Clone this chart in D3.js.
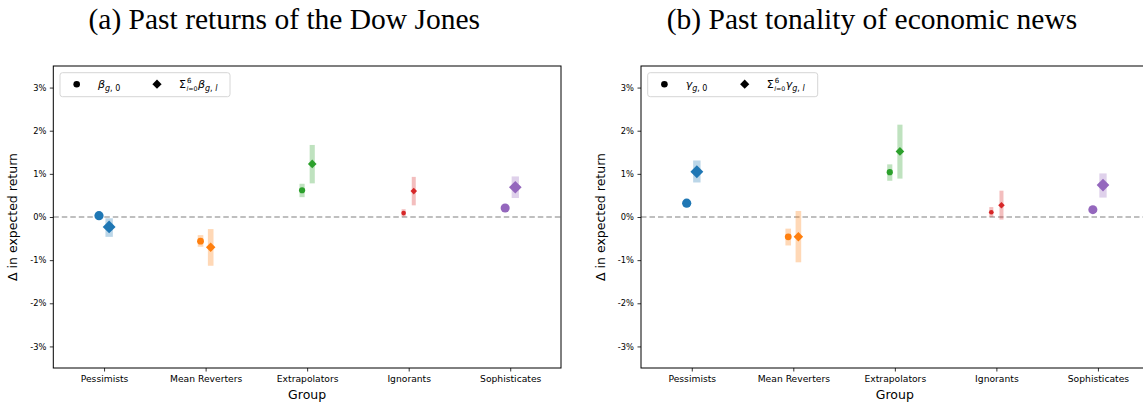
<!DOCTYPE html>
<html>
<head>
<meta charset="utf-8">
<script src="https://cdn.jsdelivr.net/npm/d3@7"></script>
<style>
  html, body { margin: 0; padding: 0; background: #fff; }
  svg { display: block; }
</style>
</head>
<body>
<svg id="chart" width="1143" height="403"></svg>
<script>
// ---------- data ----------
const groups = ["Pessimists", "Mean Reverters", "Extrapolators", "Ignorants", "Sophisticates"];
const groupColors = ["#1f77b4", "#ff7f0e", "#2ca02c", "#d62728", "#9467bd"];
const groupShare = [0.31, 0.17, 0.14, 0.08, 0.30];   // drives marker size
const yTicks = [-3, -2, -1, 0, 1, 2, 3];
const panelTitles = ["(a) Past returns of the Dow Jones", "(b) Past tonality of economic news"];
const panelSymbols = ["β", "γ"];

// panel (a): contemporaneous effect (circle) and cumulative effect (diamond), in %
const aCoef0   = [0.03, -0.56, 0.62, 0.09, 0.21];
const aCoef0Lo = [-0.02, -0.69, 0.46, 0.01, 0.16];
const aCoef0Hi = [0.08, -0.42, 0.77, 0.18, 0.26];
const aCum     = [-0.23, -0.70, 1.23, 0.60, 0.69];
const aCumLo   = [-0.46, -1.13, 0.78, 0.27, 0.44];
const aCumHi   = [-0.03, -0.28, 1.67, 0.93, 0.94];

// panel (b)
const bCoef0   = [0.32, -0.46, 1.04, 0.11, 0.17];
const bCoef0Lo = [0.27, -0.66, 0.84, 0.00, 0.12];
const bCoef0Hi = [0.37, -0.27, 1.22, 0.23, 0.22];
const bCum     = [1.05, -0.46, 1.52, 0.27, 0.74];
const bCumLo   = [0.80, -1.05, 0.89, -0.06, 0.45];
const bCumHi   = [1.31, 0.14, 2.14, 0.61, 1.01];

const panelsData = [
  { c0: aCoef0, c0lo: aCoef0Lo, c0hi: aCoef0Hi, cs: aCum, cslo: aCumLo, cshi: aCumHi },
  { c0: bCoef0, c0lo: bCoef0Lo, c0hi: bCoef0Hi, cs: bCum, cslo: bCumLo, cshi: bCumHi }
];

// ---------- layout ----------
const svg = d3.select("#chart");
const panelX = [[53.3, 561], [641, 1148.7]];
const yTop = 66, yBot = 368;
const sans = "'DejaVu Sans', sans-serif";

const rScale = d3.scaleSqrt().domain([0, d3.max(groupShare)]).range([0, 4.6]);
const yScale = d3.scaleLinear().domain([-3.5, 3.5]).range([yBot, yTop]);

panelsData.forEach((pd, p) => {
  const [x0, x1] = panelX[p];
  const g = svg.append("g");
  const x = d3.scaleLinear().domain([-0.5, 4.5]).range([x0, x1]);
  const off = 0.05;

  // title
  g.append("text")
    .attr("x", x0 + 231).attr("y", 29)
    .attr("text-anchor", "middle")
    .attr("font-family", "'Liberation Serif', 'DejaVu Serif', serif")
    .attr("font-size", 29.5)
    .text(panelTitles[p]);

  // zero line
  g.append("line")
    .attr("x1", x0).attr("x2", x1)
    .attr("y1", yScale(0)).attr("y2", yScale(0))
    .attr("stroke", "#aaaaaa").attr("stroke-width", 1.4)
    .attr("stroke-dasharray", "5.5,3");

  // axes
  const yAxis = d3.axisLeft(yScale).tickValues(yTicks)
    .tickFormat(d => d + "%").tickSize(3.5).tickPadding(3.5);
  const ya = g.append("g").attr("transform", `translate(${x0},0)`).call(yAxis);
  const xAxis = d3.axisBottom(x).tickValues(d3.range(groups.length))
    .tickFormat(i => groups[i]).tickSize(3.5).tickPadding(3.5);
  const xa = g.append("g").attr("transform", `translate(0,${yBot})`).call(xAxis);
  [ya, xa].forEach(a => {
    a.select(".domain").remove();
    a.selectAll("line").attr("stroke", "#000").attr("stroke-width", 0.8);
    a.selectAll("text").attr("font-family", sans).attr("fill", "#000");
  });
  ya.selectAll("text").attr("font-size", 8.3);
  xa.selectAll("text").attr("font-size", 9.2);

  // frame
  g.append("rect")
    .attr("x", x0).attr("y", yTop)
    .attr("width", x1 - x0).attr("height", yBot - yTop)
    .attr("fill", "none").attr("stroke", "#000").attr("stroke-width", 1);

  // axis labels
  g.append("text")
    .attr("x", (x0 + x1) / 2).attr("y", 399)
    .attr("text-anchor", "middle")
    .attr("font-family", sans).attr("font-size", 12.5)
    .text("Group");
  g.append("text")
    .attr("transform", `translate(${x0 - 36},${(yTop + yBot) / 2}) rotate(-90)`)
    .attr("text-anchor", "middle")
    .attr("font-family", sans).attr("font-size", 12.5)
    .text("Δ in expected return");

  // CI bars + markers
  const marks = g.append("g");
  groups.forEach((grp, i) => {
    const r = rScale(groupShare[i]);
    const col = groupColors[i];
    const w = r * 1.5 + 0.5;
    const cx = x(i - off), dx = x(i + off);
    marks.append("rect")
      .attr("x", cx - w / 2).attr("width", w)
      .attr("y", yScale(pd.c0hi[i])).attr("height", yScale(pd.c0lo[i]) - yScale(pd.c0hi[i]))
      .attr("fill", col).attr("opacity", 0.3);
    marks.append("rect")
      .attr("x", dx - w / 2).attr("width", w)
      .attr("y", yScale(pd.cshi[i])).attr("height", yScale(pd.cslo[i]) - yScale(pd.cshi[i]))
      .attr("fill", col).attr("opacity", 0.3);
    marks.append("circle")
      .attr("cx", cx).attr("cy", yScale(pd.c0[i])).attr("r", r)
      .attr("fill", col);
    const h = r * 1.4;
    const cy = yScale(pd.cs[i]);
    marks.append("path")
      .attr("d", `M${dx},${cy - h}L${dx + h},${cy}L${dx},${cy + h}L${dx - h},${cy}Z`)
      .attr("fill", col);
  });

  // legend
  const lx = x0 + 6.7, ly = 72.7;
  const lg = g.append("g");
  lg.append("rect")
    .attr("x", lx).attr("y", ly).attr("width", 170).attr("height", 24)
    .attr("rx", 2.5)
    .attr("fill", "#fff").attr("fill-opacity", 0.8)
    .attr("stroke", "#d6d6d6").attr("stroke-width", 1);
  const my = ly + 11.5;
  lg.append("circle").attr("cx", lx + 16.7).attr("cy", my).attr("r", 3.3).attr("fill", "#000");
  lg.append("path")
    .attr("d", `M${lx + 97},${my - 4.6}L${lx + 101.6},${my}L${lx + 97},${my + 4.6}L${lx + 92.4},${my}Z`)
    .attr("fill", "#000");
  const sym = panelSymbols[p];
  const t1 = lg.append("text").attr("x", lx + 38).attr("y", my + 3.8)
    .attr("font-family", sans).attr("font-size", 11);
  t1.append("tspan").attr("font-style", "italic").text(sym);
  t1.append("tspan").attr("font-size", 8).attr("dy", 2.5).attr("font-style", "italic").text("g");
  t1.append("tspan").attr("font-size", 8).text(", 0");
  const t2 = lg.append("text").attr("x", lx + 119).attr("y", my + 3.8)
    .attr("font-family", sans).attr("font-size", 11);
  t2.append("tspan").text("Σ");
  const sx = lx + 126.5;
  lg.append("text").attr("x", sx + 0.5).attr("y", my - 1.2)
    .attr("font-family", sans).attr("font-size", 7).text("6");
  const t3 = lg.append("text").attr("x", sx).attr("y", my + 6.6)
    .attr("font-family", sans).attr("font-size", 6.3);
  t3.append("tspan").attr("font-style", "italic").text("l");
  t3.append("tspan").text("=0");
  const t4 = lg.append("text").attr("x", sx + 11.5).attr("y", my + 3.8)
    .attr("font-family", sans).attr("font-size", 11);
  t4.append("tspan").attr("font-style", "italic").text(sym);
  t4.append("tspan").attr("font-size", 8).attr("dy", 2.5).attr("font-style", "italic").text("g");
  t4.append("tspan").attr("font-size", 8).text(", ");
  t4.append("tspan").attr("font-size", 8).attr("font-style", "italic").text("l");
});
</script>
</body>
</html>
